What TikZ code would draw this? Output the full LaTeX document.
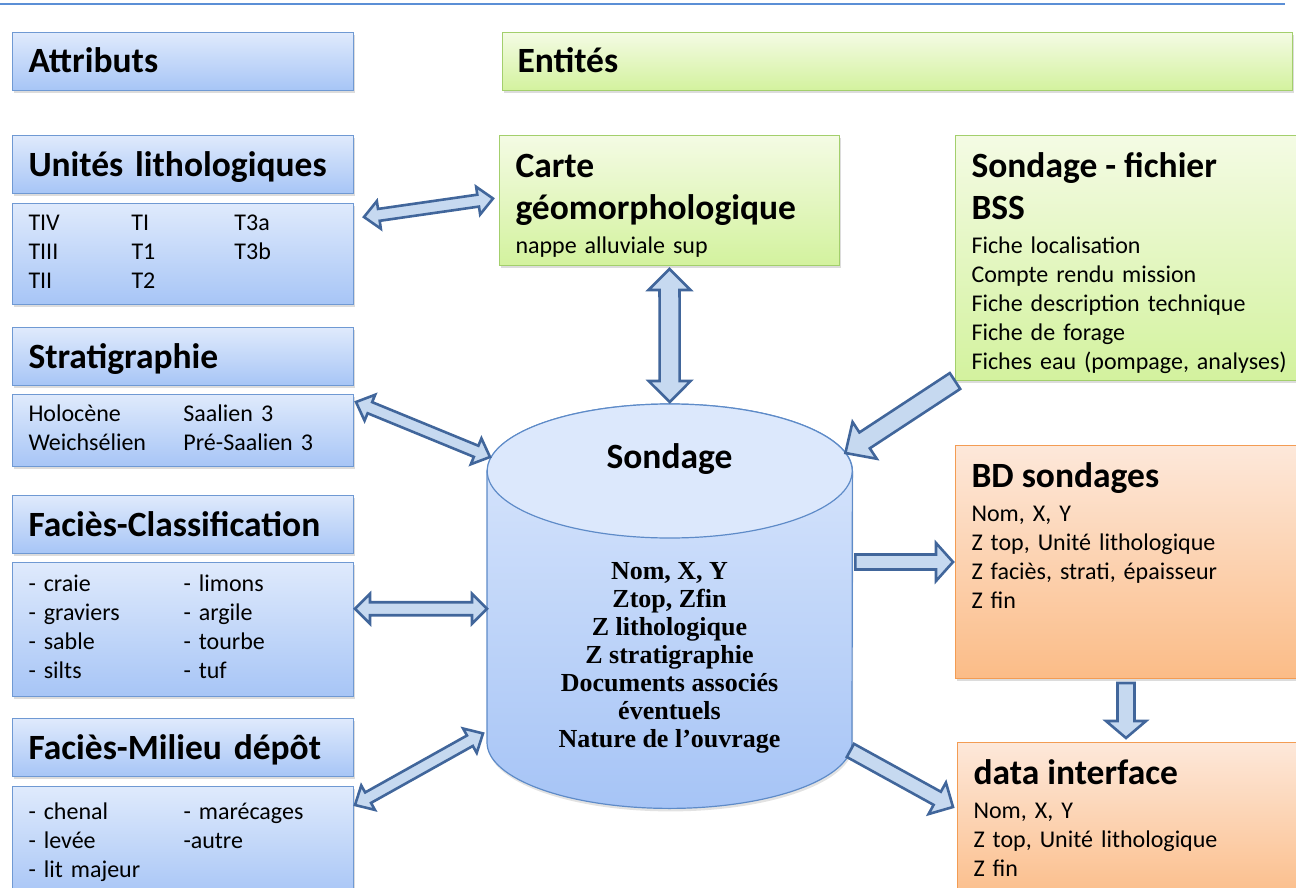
\documentclass[tikz,border=0pt]{standalone}
\usepackage{fontspec}
\setmainfont{Carlito}[WordSpace=0.75]
\newfontfamily\cylserif{Liberation Serif}
\usetikzlibrary{calc,shadows}
\definecolor{rule}{HTML}{5B8FD6}
\definecolor{attrline}{HTML}{6F99D3}
\definecolor{attrtop}{HTML}{DFEAFC}
\definecolor{attrbot}{HTML}{A7C5F6}
\definecolor{entline}{HTML}{A3CF6C}
\definecolor{enttop}{HTML}{F4FBE4}
\definecolor{entbot}{HTML}{D3F29E}
\definecolor{bdline}{HTML}{F39C53}
\definecolor{bdtop}{HTML}{FDE8DA}
\definecolor{bdbot}{HTML}{FBBC87}
\definecolor{cylline}{HTML}{5E8BC8}
\definecolor{cyltop}{HTML}{DCE8FC}
\definecolor{cylbot}{HTML}{A6C4F6}
\definecolor{arrline}{HTML}{41669B}
\definecolor{arrfill}{HTML}{C6D9F0}
\newcommand\hdfont{\fontsize{35.5}{42}\selectfont\bfseries}
\newcommand\txtfont{\fontsize{24}{29}\selectfont}
\tikzset{
  box/.style={anchor=north west,line width=1pt,inner xsep=16pt,align=left,
    drop shadow={shadow xshift=1.5pt,shadow yshift=-2.5pt,opacity=0.3,fill=black!45}},
  attrbox/.style={box,draw=attrline,top color=attrtop,bottom color=attrbot},
  attrhead/.style={attrbox,text width=309pt,minimum height=58pt,text height=28pt,text depth=5pt,font=\hdfont},
  attrlist/.style={attrbox,text width=309pt,inner ysep=7pt,font=\txtfont},
  entbox/.style={box,draw=entline,top color=enttop,bottom color=entbot,text width=308pt,inner ysep=10pt,text height=32pt,font=\txtfont},
  bdbox/.style={box,draw=bdline,top color=bdtop,bottom color=bdbot,text width=309pt,inner ysep=10pt,text height=32pt,font=\txtfont},
  shaftw/.store in=\arS, tipw/.store in=\arH, tipl/.store in=\arL,
  shaftw=6pt, tipw=14pt, tipl=15pt,
  arrowbody/.style={draw=arrline,fill=arrfill,line width=2.6pt,line join=miter},
  link/.style={arrowbody,to path={
    let \p1=(\tikztostart), \p2=(\tikztotarget), \n1={atan2(\y2-\y1,\x2-\x1)} in
    (\p1) -- ($(\p1)+(\n1:\arL)+({\n1+90}:\arH)$) -- ($(\p1)+(\n1:\arL)+({\n1+90}:\arS)$)
    -- ($(\p2)+({\n1+180}:\arL)+({\n1+90}:\arS)$) -- ($(\p2)+({\n1+180}:\arL)+({\n1+90}:\arH)$)
    -- (\p2)
    -- ($(\p2)+({\n1+180}:\arL)+({\n1-90}:\arH)$) -- ($(\p2)+({\n1+180}:\arL)+({\n1-90}:\arS)$)
    -- ($(\p1)+(\n1:\arL)+({\n1-90}:\arS)$) -- ($(\p1)+(\n1:\arL)+({\n1-90}:\arH)$) -- cycle}},
  feed/.style={arrowbody,to path={
    let \p1=(\tikztostart), \p2=(\tikztotarget), \n1={atan2(\y2-\y1,\x2-\x1)} in
    ($(\p1)+({\n1+90}:\arS)$)
    -- ($(\p2)+({\n1+180}:\arL)+({\n1+90}:\arS)$) -- ($(\p2)+({\n1+180}:\arL)+({\n1+90}:\arH)$)
    -- (\p2)
    -- ($(\p2)+({\n1+180}:\arL)+({\n1-90}:\arH)$) -- ($(\p2)+({\n1+180}:\arL)+({\n1-90}:\arS)$)
    -- ($(\p1)+({\n1-90}:\arS)$) -- cycle}},
}
\begin{document}
\begin{tikzpicture}[x=1pt,y=-1pt]
\useasboundingbox (0,0) rectangle (1296,888);
\draw[rule,line width=2.5pt] (0,4) -- (1285,4);

% attributs
\node[attrhead] (attr) at (12,32) {Attributs};
\node[attrhead] (unit) at (12,135) {Unités lithologiques};
\node[attrlist,minimum height=100pt] (ulist) at (12,203)
  {\begin{tabular}{@{}p{103pt}@{}p{103pt}@{}l@{}}
   TIV & TI & T3a\\ TIII & T1 & T3b\\ TII & T2 &
   \end{tabular}};
\node[attrhead] (strat) at (12,327) {Stratigraphie};
\node[attrlist,minimum height=72pt] (slist) at (12,394)
  {\begin{tabular}{@{}p{155pt}@{}l@{}}
   Holocène & Saalien 3\\ Weichsélien & Pré-Saalien 3
   \end{tabular}};
\node[attrhead] (fclass) at (12,495) {Faciès-Classification};
\node[attrlist,minimum height=134pt] (clist) at (12,562)
  {\begin{tabular}{@{}p{155pt}@{}l@{}}
   - craie & - limons\\ - graviers & - argile\\ - sable & - tourbe\\ - silts & - tuf
   \end{tabular}};
\node[attrhead] (fmil) at (12,718) {Faciès-Milieu dépôt};
\node[attrlist,minimum height=112pt] (mlist) at (12,786)
  {\begin{tabular}{@{}p{155pt}@{}l@{}}
   - chenal & - marécages\\ - levée & -autre\\ - lit majeur &
   \end{tabular}};

% entites
\node[attrhead,draw=entline,top color=enttop,bottom color=entbot,text width=760pt,inner xsep=15pt] (ent) at (502,32) {Entités};
\node[entbox,text depth=78pt] (carte) at (499,135)
  {{\hdfont Carte\\géomorphologique\par}\vspace{5pt}nappe alluviale sup};
\node[entbox,text width=309pt,text depth=193pt] (bss) at (955,135)
  {{\hdfont Sondage - fichier\\BSS\par}\vspace{5pt}Fiche localisation\\Compte rendu mission\\
   Fiche description technique\\Fiche de forage\\\mbox{Fiches eau (pompage, analyses)}};
\node[bdbox,text depth=181pt] (bd) at (955,445)
  {{\hdfont BD sondages\par}\vspace{5pt}Nom, X, Y\\Z top, Unité lithologique\\Z faciès, strati, épaisseur\\Z fin};
\node[bdbox,text depth=110pt] (dint) at (957,742)
  {{\hdfont data interface\par}\vspace{5pt}Nom, X, Y\\Z top, Unité lithologique\\Z fin};

% cylindre
\node[anchor=north west,minimum width=365pt,minimum height=271pt,inner sep=0pt] (sond) at (487,471) {};
\draw[cylline,line width=1.2pt,top color=cyltop,bottom color=cylbot,
  drop shadow={shadow xshift=1pt,shadow yshift=-3pt,opacity=0.25,fill=black!45}]
  (sond.north west) -- (sond.south west) arc[start angle=180,end angle=360,x radius=182.5pt,y radius=66pt]
  -- (sond.north east) arc[start angle=0,end angle=180,x radius=182.5pt,y radius=67pt] -- cycle;
\draw[cylline,line width=1.2pt,fill=cyltop] (sond.north) ellipse[x radius=182.5pt,y radius=67pt];
\node[font=\hdfont,anchor=base] (stitle) at (669.5,468) {Sondage};
\node[font={\fontsize{26}{28}\selectfont\cylserif\bfseries},align=center] (sattr) at (669.5,658)
  {Nom, X, Y\\Ztop, Zfin\\Z lithologique\\Z stratigraphie\\Documents associés\\éventuels\\Nature de l’ouvrage};

% fleches
\draw[link,shaftw=6pt,tipw=14pt,tipl=15pt] ($(ulist.north east)+(10,14)$) to ($(carte.west)+(-6,-2)$);
\draw[link,shaftw=10pt,tipw=21pt,tipl=21pt] ($(carte.south)+(0,3)$) to ($(sond.north)+(0,-69)$);
\draw[link,shaftw=6pt,tipw=14pt,tipl=15pt] ($(slist.north east)+(2,8)$) to ($(sond.north west)+(3,-14)$);
\draw[link,shaftw=6.5pt,tipw=15pt,tipl=15pt] ($(sond.west -| clist.east)+(1,2)$) to ($(sond.west)+(0,2)$);
\draw[link,shaftw=6pt,tipw=14pt,tipl=15pt] ($(mlist.north east)+(1,19)$) to ($(sond.south west)+(-4,-9)$);
\draw[feed,shaftw=9.5pt,tipw=22pt,tipl=23pt] (bss.south west) to ($(sond.north east)+(-7,-18)$);
\draw[feed,shaftw=7.5pt,tipw=19pt,tipl=17pt] ($(bd.west -| sond.east)+(3,0)$) to ($(bd.west)+(-2,0)$);
\draw[feed,shaftw=8.5pt,tipw=20pt,tipl=17pt] ($(bd.south)+(0,4)$) to ($(bd.south |- dint.north)+(0,-4)$);
\draw[feed,shaftw=7.5pt,tipw=18pt,tipl=18pt] ($(sond.south east)+(-2,8)$) to ($(dint.north west)+(-4,65)$);
\end{tikzpicture}
\end{document}
